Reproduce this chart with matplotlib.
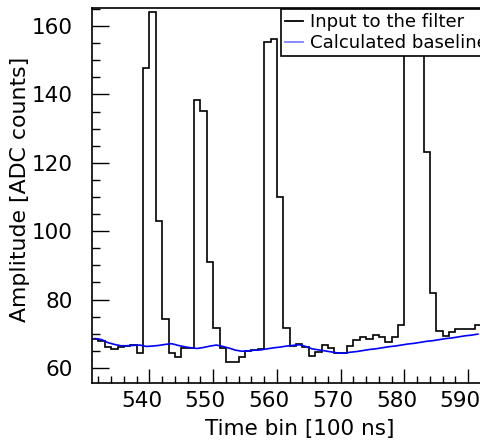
import numpy as np
import matplotlib
matplotlib.use("Agg")
import matplotlib.pyplot as plt
import matplotlib.transforms as mtransforms
from matplotlib.lines import Line2D

# bin start positions (time bins, width 1)
bins = list(range(531, 592))

# input to the filter (ADC counts per bin)
signal = [68.4, 67.9, 66.0, 65.6, 66.2, 66.5, 66.6, 64.3, 147.7, 164.2,
          103.0, 74.2, 64.3, 63.3, 65.9, 65.8, 138.4, 135.1, 91.1, 71.7,
          65.9, 61.6, 61.6, 63.2, 64.9, 65.3, 65.4, 155.4, 156.1, 110.0,
          71.6, 66.3, 67.1, 66.0, 63.5, 64.8, 66.8, 65.9, 64.5, 64.3,
          66.3, 68.3, 69.1, 68.5, 69.7, 69.0, 67.6, 69.1, 72.7, 180.0,
          200.0, 180.0, 123.2, 81.8, 70.8, 69.4, 70.5, 71.4, 71.3, 71.3,
          72.7]

# calculated baseline at each bin
baseline = [68.6, 68.3, 67.4, 66.9, 66.5, 66.5, 66.6, 66.7, 66.3, 66.4,
            66.6, 66.9, 67.1, 66.6, 66.2, 65.9, 65.7, 66.0, 66.4, 66.7,
            66.3, 65.8, 65.2, 64.9, 65.0, 65.2, 65.3, 65.6, 65.9, 66.1,
            66.4, 66.6, 66.8, 66.3, 65.6, 65.3, 65.0, 64.7, 64.4, 64.3,
            64.6, 64.8, 65.1, 65.4, 65.6, 65.9, 66.2, 66.4, 66.7, 67.0,
            67.2, 67.5, 67.8, 68.0, 68.3, 68.6, 68.8, 69.1, 69.4, 69.6,
            69.9]

edges = np.append(bins, bins[-1] + 1)
centers = np.array(bins) + 0.5

fig = plt.figure(figsize=(4.81, 4.41), dpi=100)
ax = fig.add_axes([92 / 481, 58 / 441, 1 - 92 / 481, 375 / 441])

ax.stairs(signal, edges, baseline=None, color='black', linewidth=1.2)
ax.plot(centers, baseline, color='#0000ff', linewidth=1.2)

ax.set_xlim(531, 592)
ax.set_ylim(55.6, 165.3)

ax.set_xticks(range(540, 600, 10))
ax.set_xticks(range(532, 592, 2), minor=True)
ax.set_yticks(range(60, 180, 20))
ax.set_yticks(range(60, 166, 5), minor=True)

ax.tick_params(which='both', direction='in', top=False, right=False,
               labelsize=15.5, width=1)
ax.tick_params(axis='y', which='major', length=12, pad=14)
ax.tick_params(axis='y', which='minor', length=6)
ax.tick_params(axis='x', which='major', length=10, pad=6)
ax.tick_params(axis='x', which='minor', length=5)

# ROOT style: x tick labels sit a bit left of the tick
shift = mtransforms.ScaledTranslation(-8 / 100, 0, fig.dpi_scale_trans)
for lab in ax.get_xticklabels():
    lab.set_transform(lab.get_transform() + shift)

ax.spines['right'].set_visible(False)
for s in ['left', 'bottom', 'top']:
    ax.spines[s].set_linewidth(1.2)

ax.set_xlabel('Time bin [100 ns]', fontsize=15.5)
ax.set_ylabel('Amplitude [ADC counts]', fontsize=15.8)
ax.xaxis.set_label_coords(0.535, -0.095)
ax.yaxis.set_label_coords(-0.16, 0.515)

handles = [Line2D([], [], color='black', linewidth=1.3),
           Line2D([], [], color='#7f7fff', linewidth=1.3)]
leg = fig.legend(handles, ['Input to the filter', 'Calculated baseline'],
                 loc='upper left', bbox_to_anchor=(281 / 481, 1 - 9 / 441),
                 fontsize=13.1, handlelength=1.0, handletextpad=0.4,
                 borderpad=0.22, labelspacing=0.18, borderaxespad=0,
                 fancybox=False, framealpha=1, edgecolor='black')
leg.get_frame().set_linewidth(1.2)

fig.savefig('out.png', dpi=100)
